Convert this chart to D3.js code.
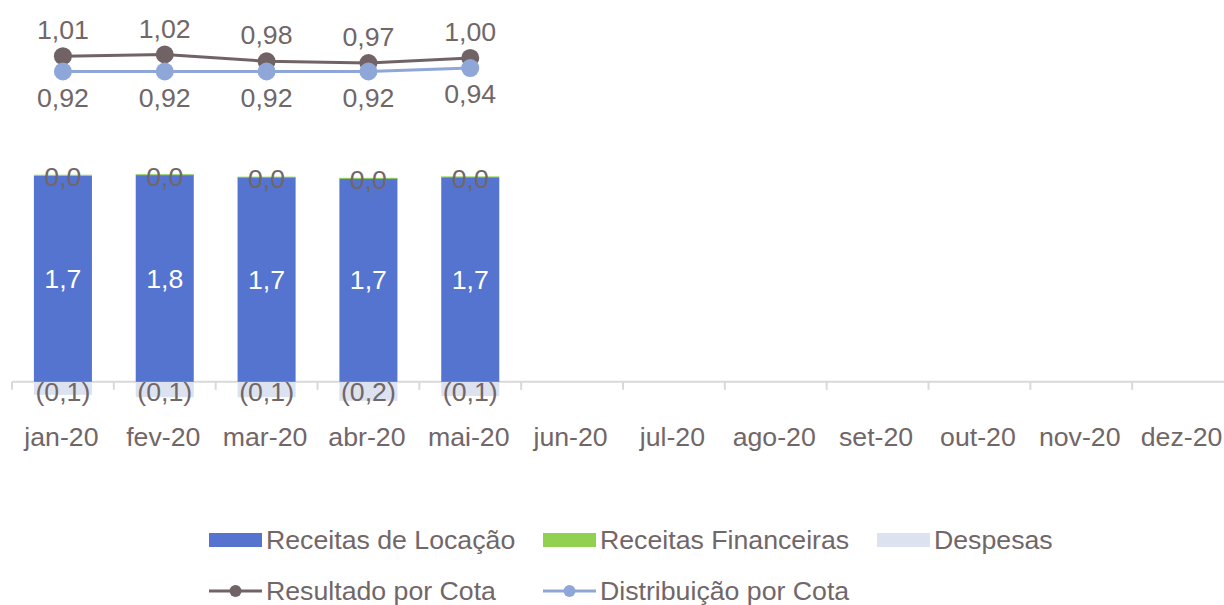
<!DOCTYPE html>
<html>
<head>
<meta charset="utf-8">
<script src="https://cdn.jsdelivr.net/npm/d3@7"></script>
<style>
  body { margin: 0; background: #fff; }
  svg { display: block; font-family: "Liberation Sans", Arial, sans-serif; }
</style>
</head>
<body>
<svg id="chart" width="1224" height="605"></svg>
<script>
// dados
var meses = ["jan-20", "fev-20", "mar-20", "abr-20", "mai-20", "jun-20", "jul-20", "ago-20", "set-20", "out-20", "nov-20", "dez-20"];
var receitasLocacao = [1.74, 1.75, 1.73, 1.72, 1.73];
var receitasFinanceiras = [0.01, 0.004, 0.004, 0.004, 0.006];
var despesas = [-0.11, -0.13, -0.13, -0.16, -0.12];
var resultadoCota = [1.01, 1.02, 0.98, 0.97, 1.00];
var distribuicaoCota = [0.92, 0.92, 0.92, 0.92, 0.94];

var corTexto = "#716668";
var corLocacao = "#5574cf";
var corFinanceira = "#92d050";
var corDespesas = "#dde2f0";
var corResultado = "#716365";
var corDistribuicao = "#8fa7d8";
var tamFonte = 26.7;

var svg = d3.select("#chart");

var x = d3.scaleBand()
	.domain(meses)
	.range([12, 1234])
	.paddingInner(0.43)
	.paddingOuter(0.215);

var y = d3.scaleLinear().domain([-0.5, 2.5]).range([441, 86]);
var y2 = d3.scaleLinear().domain([0.92, 1.02]).range([71.5, 54.5]);

function fmt(v, casas) {
	var s = Math.abs(v).toFixed(casas).replace(".", ",");
	return v < 0 ? "(" + s + ")" : s;
}

// eixo
var eixo = svg.append("g");
eixo.append("line")
	.attr("x1", 12).attr("x2", 1224)
	.attr("y1", y(0)).attr("y2", y(0))
	.attr("stroke", "#d9d9d9").attr("stroke-width", 2);

eixo.selectAll(".tick")
	.data(meses)
	.enter()
	.append("line")
	.attr("x1", function(d) { return x(d) - x.bandwidth() * 0.215 / 0.57; })
	.attr("x2", function(d) { return x(d) - x.bandwidth() * 0.215 / 0.57; })
	.attr("y1", y(0)).attr("y2", y(0) + 8)
	.attr("stroke", "#d9d9d9").attr("stroke-width", 2);

eixo.selectAll(".rotulo")
	.data(meses)
	.enter()
	.append("text")
	.attr("x", function(d) { return x(d) + x.bandwidth() / 2 - 1.5; })
	.attr("y", 446)
	.attr("text-anchor", "middle")
	.attr("font-size", tamFonte)
	.attr("fill", corTexto)
	.text(function(d) { return d; });

// barras
var barras = receitasLocacao.map(function(v, i) {
	return { mes: meses[i], loc: v, fin: receitasFinanceiras[i], desp: despesas[i] };
});

svg.selectAll(".desp")
	.data(barras)
	.enter()
	.append("rect")
	.attr("x", function(d) { return x(d.mes); })
	.attr("width", x.bandwidth())
	.attr("y", y(0))
	.attr("height", function(d) { return y(d.desp) - y(0); })
	.attr("fill", corDespesas);

svg.selectAll(".loc")
	.data(barras)
	.enter()
	.append("rect")
	.attr("x", function(d) { return x(d.mes); })
	.attr("width", x.bandwidth())
	.attr("y", function(d) { return y(d.loc); })
	.attr("height", function(d) { return y(0) - y(d.loc); })
	.attr("fill", corLocacao);

svg.selectAll(".fin")
	.data(barras)
	.enter()
	.append("rect")
	.attr("x", function(d) { return x(d.mes); })
	.attr("width", x.bandwidth())
	.attr("y", function(d) { return y(d.loc + d.fin); })
	.attr("height", function(d) { return Math.max(1, y(d.loc) - y(d.loc + d.fin)); })
	.attr("fill", corFinanceira);

// rotulos das barras
svg.selectAll(".rLoc")
	.data(barras)
	.enter()
	.append("text")
	.attr("x", function(d) { return x(d.mes) + x.bandwidth() / 2; })
	.attr("y", function(d) { return (y(0) + y(d.loc)) / 2; })
	.attr("dy", "0.35em")
	.attr("text-anchor", "middle")
	.attr("font-size", tamFonte)
	.attr("fill", "#fff")
	.text(function(d) { return fmt(d.loc, 1); });

svg.selectAll(".rFin")
	.data(barras)
	.enter()
	.append("text")
	.attr("x", function(d) { return x(d.mes) + x.bandwidth() / 2; })
	.attr("y", function(d) { return y(d.loc + d.fin) + 2; })
	.attr("dy", "0.35em")
	.attr("text-anchor", "middle")
	.attr("font-size", tamFonte)
	.attr("fill", corTexto)
	.text(function(d) { return fmt(d.fin, 1); });

svg.selectAll(".rDesp")
	.data(barras)
	.enter()
	.append("text")
	.attr("x", function(d) { return x(d.mes) + x.bandwidth() / 2; })
	.attr("y", y(0) + 10)
	.attr("dy", "0.35em")
	.attr("text-anchor", "middle")
	.attr("font-size", tamFonte)
	.attr("fill", corTexto)
	.text(function(d) { return fmt(d.desp, 1); });

// linhas
function desenhaLinha(valores, cor, dyRotulo) {
	var pts = valores.map(function(v, i) { return { mes: meses[i], v: v }; });
	var linha = d3.line()
		.x(function(d) { return x(d.mes) + x.bandwidth() / 2; })
		.y(function(d) { return y2(d.v); });
	var g = svg.append("g");
	g.append("path")
		.datum(pts)
		.attr("d", linha)
		.attr("fill", "none")
		.attr("stroke", cor)
		.attr("stroke-width", 3);
	g.selectAll("circle")
		.data(pts)
		.enter()
		.append("circle")
		.attr("cx", function(d) { return x(d.mes) + x.bandwidth() / 2; })
		.attr("cy", function(d) { return y2(d.v); })
		.attr("r", 9)
		.attr("fill", cor);
	g.selectAll("text")
		.data(pts)
		.enter()
		.append("text")
		.attr("x", function(d) { return x(d.mes) + x.bandwidth() / 2; })
		.attr("y", function(d) { return y2(d.v) + dyRotulo; })
		.attr("text-anchor", "middle")
		.attr("font-size", tamFonte)
		.attr("fill", corTexto)
		.text(function(d) { return fmt(d.v, 2); });
}

desenhaLinha(resultadoCota, corResultado, -17);
desenhaLinha(distribuicaoCota, corDistribuicao, 35);

// legenda
var legBarras = [
	{ nome: "Receitas de Locação", cor: corLocacao, x: 209 },
	{ nome: "Receitas Financeiras", cor: corFinanceira, x: 543 },
	{ nome: "Despesas", cor: corDespesas, x: 877 }
];
var legLinhas = [
	{ nome: "Resultado por Cota", cor: corResultado, x: 209 },
	{ nome: "Distribuição por Cota", cor: corDistribuicao, x: 543 }
];

var lb = svg.selectAll(".legB")
	.data(legBarras)
	.enter()
	.append("g")
	.attr("transform", function(d) { return "translate(" + d.x + ",540)"; });
lb.append("rect")
	.attr("x", 0).attr("y", -7)
	.attr("width", 53).attr("height", 14)
	.attr("fill", function(d) { return d.cor; });
lb.append("text")
	.attr("x", 57).attr("dy", "0.35em")
	.attr("font-size", tamFonte)
	.attr("fill", corTexto)
	.text(function(d) { return d.nome; });

var ll = svg.selectAll(".legL")
	.data(legLinhas)
	.enter()
	.append("g")
	.attr("transform", function(d) { return "translate(" + d.x + ",591)"; });
ll.append("line")
	.attr("x1", 0).attr("x2", 53)
	.attr("stroke", function(d) { return d.cor; })
	.attr("stroke-width", 3);
ll.append("circle")
	.attr("cx", 26.5).attr("r", 6)
	.attr("fill", function(d) { return d.cor; });
ll.append("text")
	.attr("x", 57).attr("dy", "0.35em")
	.attr("font-size", tamFonte)
	.attr("fill", corTexto)
	.text(function(d) { return d.nome; });
</script>
</body>
</html>
